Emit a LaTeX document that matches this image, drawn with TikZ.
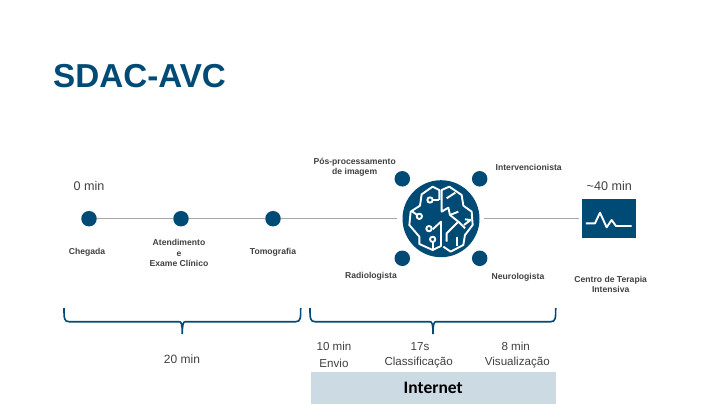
\documentclass[tikz,border=0pt]{standalone}
\usepackage{fontspec}
\setmainfont{Liberation Sans}
\newfontfamily\internetfont{Carlito}
\usetikzlibrary{positioning}
\definecolor{sdacblue}{HTML}{004B75}
\definecolor{sdacgray}{HTML}{404040}
\definecolor{sdacline}{HTML}{A6A6A6}
\definecolor{sdacpale}{HTML}{CCDAE4}

\begin{document}
\begin{tikzpicture}[
        x=1pt, y=-1pt, on grid,
        point/.style={circle, fill=sdacblue, minimum size=15.5pt, inner sep=0pt},
        step label/.style={font=\bfseries\fontsize{8.6}{10.4}\selectfont, text=sdacgray, align=center, inner sep=0pt},
        time label/.style={font=\fontsize{12.6}{15}\selectfont, text=sdacgray, inner sep=0pt},
        part label/.style={font=\fontsize{11.6}{14}\selectfont, text=sdacgray, inner sep=0pt},
        timeline/.style={draw=sdacline, line width=1pt},
        brace/.style={draw=sdacblue, line width=1.6pt},
        brain/.style={draw=white, line width=1.9pt, line join=round}
    ]
        \newcommand{\timebrace}[3]{
            \draw[brace] (#1,308) .. controls (#1,318) and (#1,321.7) .. (#1+5,321.7)
                -- (#2-3,321.7) .. controls (#2-1,321.7) and (#2,324) .. (#2,334)
                .. controls (#2,324) and (#2+1,321.7) .. (#2+3,321.7)
                -- (#3-5,321.7) .. controls (#3,321.7) and (#3,318) .. (#3,308);
        }
        \useasboundingbox (0,0) rectangle (718,417);

        \node[anchor=base west, inner sep=0pt, font=\bfseries\fontsize{33.2}{40}\selectfont, text=sdacblue] (title) at (53,88) {SDAC-AVC};

        % timeline
        \node[point] (chegada) at (89,218.7) {};
        \node[point, right=92pt of chegada] (atendimento) {};
        \node[point, right=92pt of atendimento] (tomografia) {};
        \node[circle, fill=sdacblue, minimum size=77pt, inner sep=0pt] (ia) at (441,218.7) {};
        \node[fill=sdacblue, minimum width=54pt, minimum height=38.7pt, inner sep=0pt] (uti) at (609.3,218.7) {};
        \coordinate (tolinha) at (397,218.7);
        \coordinate (ialinha) at (484,218.7);
        \coordinate (utilinha) at (579,218.7);
        \draw[timeline] (chegada) -- (atendimento);
        \draw[timeline] (atendimento) -- (tomografia);
        \draw[timeline] (tomografia) -- (tolinha);
        \draw[timeline] (ialinha) -- (utilinha);

        % the four around the brain
        \node[point, above left=39.9pt and 38.7pt of ia] (posproc) {};
        \node[point, above right=39.9pt and 38.7pt of ia] (interv) {};
        \node[point, below left=39.6pt and 38.7pt of ia] (radio) {};
        \node[point, below right=39.6pt and 38.7pt of ia] (neuro) {};

        \node[time label, above=32.7pt of chegada] (t0) {0 min};
        \node[time label, above=32.7pt of uti] (t40) {\textasciitilde 40 min};

        \node[step label, below=33.3pt of chegada, xshift=-2pt] (lchegada) {Chegada};
        \node[step label, below=34.6pt of atendimento, xshift=-2pt] (latend) {Atendimento\\e\\Exame Clínico};
        \node[step label, below=33.3pt of tomografia] (ltomo) {Tomografia};
        \node[step label] (lpos) at (354.7,167) {Pós-processamento\\de imagem};
        \node[step label] (linterv) at (528.7,167.3) {Intervencionista};
        \node[step label] (lradio) at (371,276.7) {Radiologista};
        \node[step label] (lneuro) at (518,277) {Neurologista};
        \node[step label] (luti) at (610.7,284.7) {Centro de Terapia\\Intensiva};

        % brain, in steps of a third
        \begin{scope}[shift={(380,140)}, x=.3333pt, y=-.3333pt]
            \draw[brain] (178,180) -- (178,150) -- (158,140) -- (125,163) -- (120,197) -- (92,215) -- (88,255) -- (118,290) -- (118,312) -- (158,330) -- (183,318) -- (183,245) -- (158,268);
            \draw[brain] (178,180) -- (158,180);
            \draw[brain] (95,213) -- (110,224);
            \draw[brain] (158,307) -- (158,330);
            \draw[brain] (150,180) circle (8);
            \draw[brain] (118,229) circle (8);
            \draw[brain] (147,266) circle (8);
            \draw[brain] (158,298) circle (8);
            \draw[brain] (185,180) -- (185,150) -- (208,140) -- (245,165) -- (250,197) -- (275,215) -- (278,255) -- (255,285) -- (250,315) -- (212,335) -- (190,320);
            \draw[brain] (200,175) -- (226,158);
            \draw[brain] (185,180) -- (185,215) -- (205,203) -- (210,225) -- (235,245) -- (200,280) -- (200,305);
            \draw[brain] (235,245) -- (255,265);
            \draw[brain] (210,225) -- (235,215);
            \draw[brain] (255,238) -- (272,240) -- (252,255);
            \draw[brain] (230,290) -- (230,318);
            % pulse
            \draw[brain] (618,250) -- (645,250) -- (660,218) -- (680,262) -- (695,240) -- (708,258) -- (755,258);
        \end{scope}

        % braces
        \timebrace{64}{182.3}{300.7}
        \timebrace{310}{433}{555.7}

        \node[part label, font=\fontsize{12}{14}\selectfont] (t20) at (182,359.7) {20 min};
        \node[part label] (t10) at (334,346.7) {10 min};
        \node[part label, below=16.3pt of t10] (envio) {Envio};
        \node[part label] (t17) at (420,346.7) {17s};
        \node[part label, below=16.3pt of t17, xshift=-1.3pt] (class) {Classificação};
        \node[part label] (t8) at (515.7,346.7) {8 min};
        \node[part label, below=16.3pt of t8, xshift=1.6pt] (visual) {Visualização};

        \node[fill=sdacpale, minimum width=245pt, minimum height=32pt, inner sep=0pt, font=\internetfont\bfseries\fontsize{17.5}{20}\selectfont, text=black] (internet) at (433.2,387.7) {Internet};
    \end{tikzpicture}
\end{document}
